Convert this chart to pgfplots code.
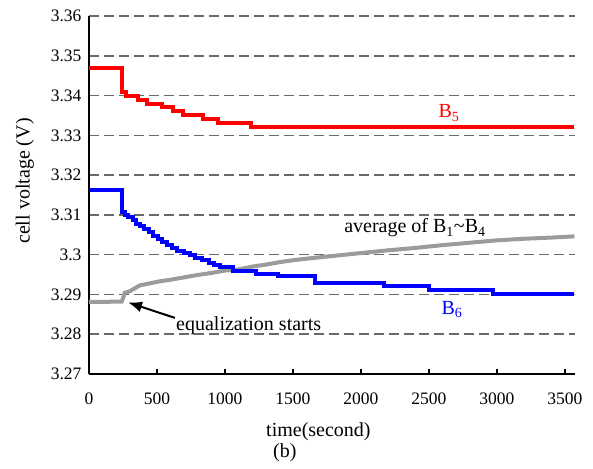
\documentclass[border=0pt]{standalone}
\usepackage{fontspec}
\setmainfont{Liberation Serif}
\usepackage{pgfplots}
\pgfplotsset{compat=1.18}
\usetikzlibrary{arrows.meta}

\definecolor{avggray}{RGB}{155,155,155}
\definecolor{gridgray}{RGB}{105,105,105}

\begin{document}
\begin{tikzpicture}
\begin{axis}[scale only axis, width=486pt, height=358pt,
  xmin=0, xmax=3574, ymin=3.27, ymax=3.36,
  axis x line=bottom, axis y line=left,
  axis line style={-, line width=2pt, black},
  xtick={0,500,1000,1500,2000,2500,3000,3500},
  xticklabels={0,500,1000,1500,2000,2500,3000,3500},
  ytick={3.27,3.28,3.29,3.30,3.31,3.32,3.33,3.34,3.35,3.36},
  yticklabels={3.27,3.28,3.29,3.3,3.31,3.32,3.33,3.34,3.35,3.36},
  tick align=inside, major tick length=5pt,
  xtick style={line width=1.5pt, black},
  ytick style={draw=none},
  ymajorgrids, grid style={gridgray, line width=1.5pt, dash pattern=on 10pt off 5pt},
  tick label style={font=\fontsize{17.5}{20}\selectfont},
  xticklabel style={yshift=-15pt},
  yticklabel style={xshift=-4pt},
  /pgf/number format/assume math mode=true,
  every axis y label/.style={at={(axis description cs:-0.132,0.539)}, rotate=90, anchor=center},
  every axis x label/.style={at={(axis description cs:0.472,-0.162)}, anchor=center},
  label style={font=\fontsize{20}{24}\selectfont},
  xlabel={time(second)}, ylabel={cell voltage (V)},
  clip=false]
\coordinate (O) at (rel axis cs:0,0);

% B5
\addplot[red, line width=4pt, const plot] coordinates {
(0,3.347)(245,3.341)(275,3.340)(360,3.339)(430,3.338)(540,3.337)(620,3.336)
(690,3.335)(840,3.334)(950,3.333)(1190,3.332)(3570,3.332)};

% average of B1~B4
\addplot[avggray, line width=4pt] coordinates {
(0,3.2881)(240,3.2882)(250,3.2890)(262,3.2904)(300,3.2908)(375,3.2923)(450,3.2928)
(520,3.2933)(600,3.2937)(700,3.2943)(800,3.2949)(900,3.2954)(1000,3.2960)(1100,3.2963)
(1200,3.2970)(1300,3.2975)(1400,3.2981)(1500,3.2986)(1600,3.2990)(1800,3.2997)
(2000,3.3004)(2200,3.3011)(2400,3.3017)(2600,3.3024)(2800,3.3030)(3000,3.3036)
(3200,3.3040)(3400,3.3043)(3570,3.3046)};

% B6
\addplot[blue, line width=4pt, const plot] coordinates {
(0,3.3162)(245,3.3108)(265,3.3100)(290,3.3094)(320,3.3086)(345,3.3078)(375,3.3072)
(405,3.3064)(440,3.3056)(470,3.3048)(505,3.3040)(540,3.3032)(575,3.3024)(610,3.3018)
(650,3.3010)(700,3.3004)(740,3.2998)(780,3.2992)(830,3.2986)(880,3.2980)(920,3.2974)
(960,3.2968)(1060,3.2960)(1230,3.2952)(1390,3.2946)(1662,3.2930)(2170,3.2921)
(2500,3.2912)(2970,3.2900)(3570,3.2900)};

\node[red, inner sep=0, font=\fontsize{20}{24}\selectfont] at (axis cs:2647,3.3356) {B\textsubscript{5}};
\node[blue, inner sep=0, font=\fontsize{20}{24}\selectfont] at (axis cs:2669,3.2861) {B\textsubscript{6}};
\node[inner sep=0, font=\fontsize{20}{24}\selectfont] at (axis cs:2397,3.3067)
  {average of B\textsubscript{1}\textasciitilde B\textsubscript{4}};
\node[inner sep=0, anchor=west, font=\fontsize{20}{24}\selectfont] at (axis cs:640,3.2822)
  {equalization starts};
\draw[-{Latex[length=14pt,width=11pt]}, line width=2pt] (axis cs:632,3.2841) -- (axis cs:287,3.2880);
\node[inner sep=0, font=\fontsize{20}{24}\selectfont] at (axis description cs:0.403,-0.2207) {(b)};
\end{axis}
\pgfresetboundingbox
\path[use as bounding box] ([shift={(-89pt,-94pt)}]O) rectangle ([shift={(504pt,374pt)}]O);
\end{tikzpicture}
\end{document}
